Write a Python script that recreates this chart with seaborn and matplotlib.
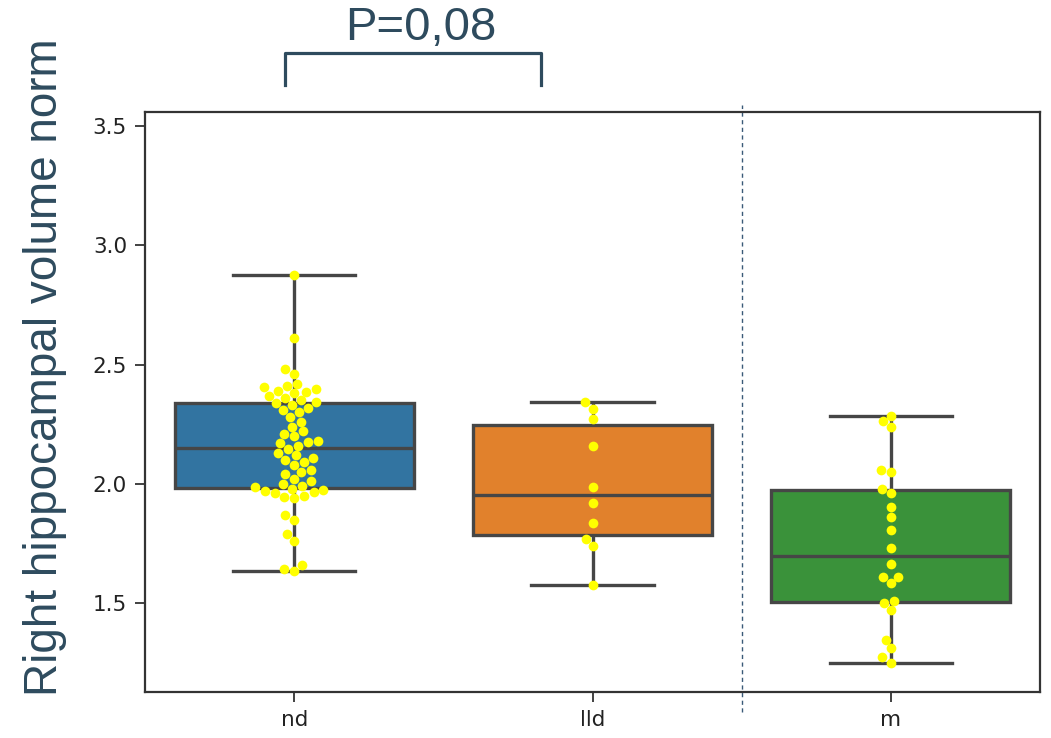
import matplotlib
matplotlib.use("Agg")
import matplotlib.pyplot as plt
from matplotlib.lines import Line2D
import seaborn as sns
import pandas as pd

# ---- data ----
categories = ["nd", "lld", "m"]
nd_values = [1.635, 1.645, 1.66, 1.76, 1.79, 1.85, 1.87, 1.94, 1.945, 1.95,
             1.96, 1.965, 1.97, 1.975, 1.98,
             1.985, 1.99, 2.0, 2.01, 2.02, 2.04, 2.05, 2.06, 2.08, 2.09,
             2.10, 2.11, 2.12, 2.13, 2.145,
             2.16, 2.17, 2.175, 2.18, 2.20, 2.21, 2.22, 2.24, 2.26, 2.28,
             2.30, 2.31, 2.32, 2.33, 2.34,
             2.345, 2.35, 2.36, 2.37, 2.38, 2.385, 2.39, 2.40, 2.405, 2.41,
             2.42, 2.46, 2.48, 2.61, 2.875]
lld_values = [1.575, 1.74, 1.77, 1.836, 1.918, 1.989, 2.16, 2.274, 2.315, 2.342]
m_values = [1.249, 1.272, 1.31, 1.345, 1.47, 1.50, 1.51, 1.583, 1.61, 1.61,
            1.665, 1.73, 1.806, 1.862, 1.904, 1.96, 1.98, 2.05, 2.057, 2.24,
            2.265, 2.286]
y_ticks = [1.5, 2.0, 2.5, 3.0, 3.5]
y_label = "Right hippocampal volume norm"
p_text = "P=0,08"

groups = ([categories[0]] * len(nd_values) + [categories[1]] * len(lld_values)
          + [categories[2]] * len(m_values))
df = pd.DataFrame({"group": groups, "value": nd_values + lld_values + m_values})

annot_color = "#2E4B5E"

fig = plt.figure(figsize=(10.51, 7.38), dpi=100)
ax = fig.add_axes([0.138, 0.0623, 0.8515, 0.7857])

sns.boxplot(data=df, x="group", y="value", order=categories, hue="group",
            hue_order=categories, palette=sns.color_palette("tab10")[:3],
            saturation=0.75, width=0.8, linecolor="#464646", linewidth=2.4,
            showfliers=False, legend=False, capwidths=0.41, ax=ax)
sns.swarmplot(data=df, x="group", y="value", order=categories, color="#FFFF00",
              size=7, linewidth=0, ax=ax)

ax.set_xlim(-0.5, 2.5)
ax.set_ylim(1.127, 3.559)
ax.set_yticks(y_ticks)
ax.set_yticklabels([f"{t:.1f}" for t in y_ticks])
ax.set_xlabel("")
ax.set_ylabel("")
ax.tick_params(axis="both", labelsize=15.5, length=7, width=1.3, colors="#333333",
               labelcolor="#222222", pad=6)
for sp in ax.spines.values():
    sp.set_color("#333333")
    sp.set_linewidth(1.6)

# vertical dashed separator between lld and m
ax.axvline(1.5, ymin=-0.034, ymax=1.012, color="#3A5A78", linewidth=1.0,
           linestyle=(0, (3, 2.5)), clip_on=False)

# y label
fig.text(0.043, 0.503, y_label, rotation=90, ha="center", va="center",
         fontsize=33, family="Liberation Sans", color=annot_color)

# significance bracket and text
W, H = 1051, 738
bx0, bx1, by_top, by_bot = 285 / W, 541 / W, 1 - 53 / H, 1 - 85 / H
fig.add_artist(Line2D([bx0, bx0, bx1, bx1], [by_bot, by_top, by_top, by_bot],
                      transform=fig.transFigure, color=annot_color, linewidth=2.3))
fig.text(421 / W, 1 - 28 / H, p_text, ha="center", va="center", fontsize=34,
         family="Liberation Sans", color=annot_color)

fig.savefig("out.png", dpi=100)
